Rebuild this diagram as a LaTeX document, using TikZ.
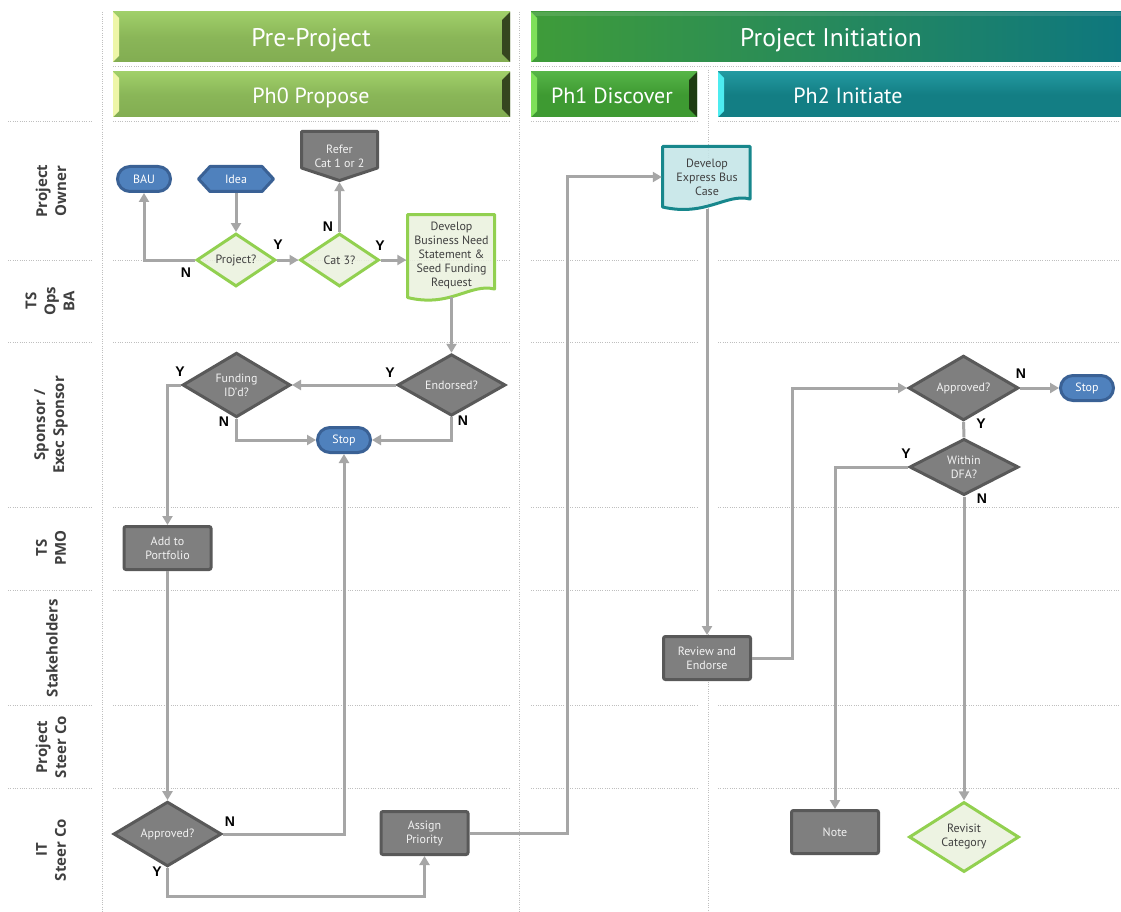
\documentclass[tikz,border=0pt]{standalone}
\usepackage{fontspec}
\setmainfont{PT Sans}
\newfontfamily\lanefont{Open Sans}
\newfontfamily\ynfont{Liberation Sans}
\usetikzlibrary{shapes.geometric,arrows.meta,calc}
\definecolor{connc}{HTML}{A6A6A6}
\definecolor{gridc}{HTML}{BFBFBF}
\definecolor{bluef}{HTML}{4F81BD}
\definecolor{blued}{HTML}{3A6195}
\definecolor{grayf}{HTML}{7F7F7F}
\definecolor{grayd}{HTML}{595959}
\definecolor{graytxt}{HTML}{F2F2F2}
\definecolor{lgf}{HTML}{EBF1DE}
\definecolor{lgd}{HTML}{92D050}
\definecolor{tealf}{HTML}{C3E5E7}
\definecolor{teald}{HTML}{17878C}
\definecolor{txtd}{HTML}{404040}
\definecolor{lanec}{HTML}{3F3F3F}
\definecolor{ppmain}{HTML}{8AB658}
\definecolor{pptop}{HTML}{A0CF69}
\definecolor{ppbot}{HTML}{82AD52}
\definecolor{ppbevL}{HTML}{EEF6A8}
\definecolor{ppbevR}{HTML}{35461F}
\definecolor{pigreen}{HTML}{3F9C39}
\definecolor{piteal}{HTML}{0E777E}
\definecolor{pibevL}{HTML}{7EE05A}
\definecolor{d1main}{HTML}{3E9A32}
\definecolor{d1top}{HTML}{55B447}
\definecolor{d1bevR}{HTML}{1D3C12}
\definecolor{tealmain}{HTML}{137E84}
\definecolor{tealtop}{HTML}{2399A0}
\definecolor{tealbevL}{HTML}{4DECF0}
\tikzset{
 gridline/.style={draw=gridc, line width=1pt, dash pattern=on 1pt off 1.3pt},
 txt/.style={font=\fontsize{12}{14}\selectfont, align=center, inner sep=0pt},
 bluestop/.style={txt, rectangle, rounded corners=12.5pt, fill=bluef, draw=blued, line width=3pt, text=white, minimum width=53, minimum height=25},
 graybox/.style={txt, rectangle, rounded corners=2pt, fill=grayf, draw=grayd, line width=3pt, text=graytxt, minimum width=87, minimum height=43},
 graydia/.style={txt, diamond, fill=grayf, draw=grayd, line width=3pt, text=graytxt, minimum width=108, minimum height=53},
 greendia/.style={txt, diamond, fill=lgf, fill opacity=0.85, text opacity=1, draw=lgd, line width=3pt, text=txtd, minimum width=79, minimum height=53},
 arrowline/.style={draw=connc, line width=3pt, -{Triangle[length=9pt,width=10pt]}},
 plainline/.style={draw=connc, line width=3pt},
 ynlabel/.style={font=\ynfont\bfseries\fontsize{14}{14}\selectfont, inner sep=0pt},
 lanelabel/.style={font=\lanefont\bfseries\fontsize{15}{19}\selectfont, text=lanec, rotate=90, align=center, inner sep=0pt},
 hdrtop/.style={text=white, inner sep=0pt, anchor=base, font=\fontsize{25.5}{25.5}\selectfont},
 hdrph/.style={text=white, inner sep=0pt, anchor=base, font=\fontsize{22}{22}\selectfont},
}
\begin{document}
\begin{tikzpicture}[x=1pt,y=-1pt]
\useasboundingbox[fill=white] (0,0) rectangle (1121,912);

% ---------- headers ----------
\shade[top color=pptop, bottom color=ppbot, middle color=ppmain] (113,12) rectangle (510,62);
\fill[ppbevL] (113,12) -- (119,18) -- (119,56) -- (113,62) -- cycle;
\fill[ppbevR] (510,12) -- (502,20) -- (502,54) -- (510,62) -- cycle;
\node[hdrtop] (hpre) at (311,47) {Pre-Project};

\shade[left color=pigreen, right color=piteal] (531,12) rectangle (1121,62);
\fill[white, opacity=0.12] (531,12) rectangle (1121,16);
\fill[pibevL] (531,12) -- (537,18) -- (537,56) -- (531,62) -- cycle;
\node[hdrtop] (hpi) at (831,47) {Project Initiation};

\shade[top color=pptop, bottom color=ppbot, middle color=ppmain] (113,72) rectangle (510,117);
\fill[ppbevL] (113,72) -- (119,78) -- (119,111) -- (113,117) -- cycle;
\fill[ppbevR] (510,72) -- (502,80) -- (502,109) -- (510,117) -- cycle;
\node[hdrph] (hph0) at (311,104) {Ph0 Propose};

\shade[top color=d1top, bottom color=d1main, middle color=d1main] (531,72) rectangle (697,117);
\fill[pibevL] (531,72) -- (537,78) -- (537,111) -- (531,117) -- cycle;
\fill[d1bevR] (697,72) -- (689,80) -- (689,109) -- (697,117) -- cycle;
\node[hdrph] (hph1) at (612,104) {Ph1 Discover};

\shade[top color=tealtop, bottom color=tealmain, middle color=tealmain] (718,72) rectangle (1121,117);
\fill[tealbevL] (718,72) -- (724,78) -- (724,111) -- (718,117) -- cycle;
\node[hdrph] (hph2) at (848,104) {Ph2 Initiate};

% ---------- grid ----------
\draw[gridline] (102,12) -- (102,912);
\draw[gridline] (519,12) -- (519,912);
\draw[gridline] (708,70) -- (708,912);
\draw[gridline] (113,67) -- (510,67);
\draw[gridline] (531,67) -- (1119,67);
\foreach \yy in {122,260,342,507,590,705,788}{
  \draw[gridline] (8,\yy) -- (92,\yy);
  \draw[gridline] (113,\yy) -- (510,\yy);
  \draw[gridline] (531,\yy) -- (697,\yy);
  \draw[gridline] (718,\yy) -- (1119,\yy);
}

% ---------- lane labels ----------
\node[lanelabel] (l1) at (51,191) {Project\\Owner};
\node[lanelabel] (l2) at (50,301) {TS\\Ops\\BA};
\node[lanelabel] (l3) at (51,425) {Sponsor /\\Exec Sponsor};
\node[lanelabel] (l4) at (51,548) {TS\\PMO};
\node[lanelabel] (l5) at (52,648) {Stakeholders};
\node[lanelabel] (l6) at (51,747) {Project\\Steer Co};
\node[lanelabel] (l7) at (51,850) {IT\\Steer Co};

% ---------- custom shapes ----------
\filldraw[fill=bluef, draw=blued, line width=3pt, line join=round]
  (198.5,179) -- (210,166.5) -- (262,166.5) -- (273.5,179) -- (262,191.5) -- (210,191.5) -- cycle;
\filldraw[fill=grayf, draw=grayd, line width=3pt, line join=round]
  (301.5,131.5) -- (377.5,131.5) -- (377.5,168) -- (339.5,180.5) -- (301.5,168) -- cycle;
\filldraw[fill=lgf, fill opacity=0.85, draw=lgd, line width=3pt, line join=round]
  (407.5,214.5) -- (494.5,214.5) -- (494.5,289) .. controls (470,283) and (450,308) .. (407.5,297.5) -- cycle;
\filldraw[fill=tealf, fill opacity=0.85, draw=teald, line width=3pt, line join=round]
  (662.5,146.5) -- (750,146.5) -- (750,199) .. controls (726,193) and (706,217) .. (662.5,207) -- cycle;

% ---------- nodes ----------
\node[bluestop] (bau) at (144,179) {BAU};
\node[txt, text=white, minimum width=78, minimum height=28] (idea) at (236,179) {Idea};
\node[greendia] (proj) at (236,260) {Project?};
\node[greendia] (cat3) at (339.5,260) {Cat 3?};
\node[txt, text=graytxt, minimum width=79, minimum height=52] (refer) at (339.5,156) {Refer\\Cat 1 or 2};
\node[txt, text=txtd, minimum width=90, minimum height=84] (bns) at (451.5,255) {Develop\\Business Need\\Statement \&\\Seed Funding\\Request};
\node[graydia] (endorsed) at (451.5,385) {Endorsed?};
\node[graydia] (funding) at (236.5,385) {Funding\\ID’d?};
\node[bluestop] (stop1) at (344,440) {Stop};
\node[graybox] (portfolio) at (167.5,548) {Add to\\Portfolio};
\node[graydia] (itappr) at (167.5,834) {Approved?};
\node[graybox] (assign) at (424.5,833) {Assign\\Priority};
\node[txt, text=txtd, minimum width=90, minimum height=64] (express) at (707,177) {Develop\\Express Bus\\Case};
\node[graybox] (review) at (707,658) {Review and\\Endorse};
\node[graydia, minimum width=110] (appr2) at (963.5,388) {Approved?};
\node[bluestop] (stop2) at (1087,388) {Stop};
\node[graydia, minimum width=109] (dfa) at (964,467) {Within\\DFA?};
\node[graybox] (note) at (835,832) {Note};
\node[greendia, minimum width=110] (revisit) at (964,837) {Revisit\\Category};

% ---------- route points ----------
\coordinate (r1) at (167.5,896);
\coordinate (r2) at (567,500);
\coordinate (r3) at (792,500);

% ---------- connectors ----------
\draw[arrowline] (idea.south) -- (proj.north);
\draw[arrowline] (proj.west) -| (bau.south);
\draw[arrowline] (proj.east) -- (cat3.west);
\draw[arrowline] (cat3.north) -- (refer.south);
\draw[arrowline] (cat3.east) -- (cat3.east -| bns.west);
\draw[arrowline] (bns.south) -- (endorsed.north);
\draw[arrowline] (endorsed.west) -- (funding.east);
\draw[arrowline] (endorsed.south) |- (stop1.east);
\draw[arrowline] (funding.south) |- (stop1.west);
\draw[arrowline] (funding.west) -| (portfolio.north);
\draw[arrowline] (portfolio.south) -- (itappr.north);
\draw[arrowline] (itappr.east) -| (stop1.south);
\draw[arrowline] (itappr.south) -- (r1) -| (assign.south);
\draw[arrowline] (assign.east) -- (assign.east -| r2) -- (r2 |- express.west) -- (express.west);
\draw[arrowline] (express.south) -- (review.north);
\draw[arrowline] (review.east) -- (review.east -| r3) -- (r3 |- appr2.west) -- (appr2.west);
\draw[arrowline] (appr2.east) -- (stop2.west);
\draw[plainline] (appr2.south) -- (dfa.north);
\draw[arrowline] (dfa.west) -| (note.north);
\draw[arrowline] (dfa.south) -- (revisit.north);

% ---------- Y / N labels ----------
\node[ynlabel] (yn1) at (186,273) {N};
\node[ynlabel] (yn2) at (278,245) {Y};
\node[ynlabel] (yn3) at (328,227) {N};
\node[ynlabel] (yn4) at (380,246) {Y};
\node[ynlabel] (yn5) at (390,373) {Y};
\node[ynlabel] (yn6) at (463,421) {N};
\node[ynlabel] (yn7) at (180,372) {Y};
\node[ynlabel] (yn8) at (224,422) {N};
\node[ynlabel] (yn9) at (230,822) {N};
\node[ynlabel] (yn10) at (157,872) {Y};
\node[ynlabel] (yn11) at (1021,374) {N};
\node[ynlabel] (yn12) at (981,424) {Y};
\node[ynlabel] (yn13) at (906,454) {Y};
\node[ynlabel] (yn14) at (982,499) {N};
\end{tikzpicture}
\end{document}
